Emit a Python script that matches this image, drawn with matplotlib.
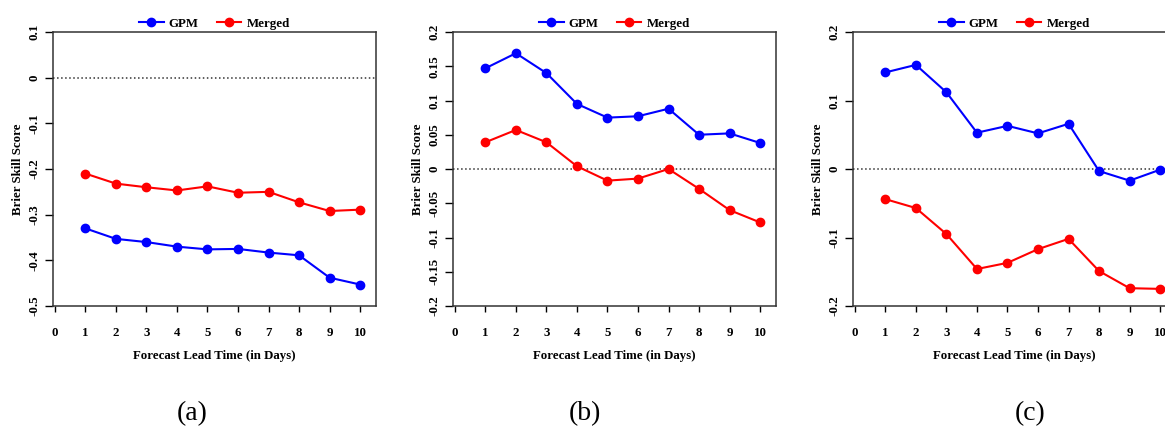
import numpy as np
import matplotlib
matplotlib.use('Agg')
import matplotlib.pyplot as plt

plt.rcParams['font.family'] = ['Liberation Serif', 'DejaVu Serif']

# Forecast lead time (days)
days = np.arange(1, 11)

# Brier skill score, panel (a)
gpm_a = [-0.330, -0.353, -0.360, -0.370, -0.376, -0.375, -0.383, -0.389, -0.438, -0.453]
merged_a = [-0.210, -0.232, -0.240, -0.247, -0.238, -0.252, -0.250, -0.273, -0.292, -0.289]

# panel (b)
gpm_b = [0.147, 0.169, 0.140, 0.095, 0.075, 0.077, 0.088, 0.050, 0.052, 0.038]
merged_b = [0.039, 0.057, 0.039, 0.004, -0.017, -0.014, 0.000, -0.029, -0.060, -0.078]

# panel (c)
gpm_c = [0.141, 0.152, 0.112, 0.053, 0.063, 0.052, 0.066, -0.003, -0.017, -0.001]
merged_c = [-0.044, -0.057, -0.095, -0.146, -0.137, -0.117, -0.102, -0.149, -0.174, -0.175]

y_ticks_a = [0.1, 0, -0.1, -0.2, -0.3, -0.4, -0.5]
y_ticks_b = [0.2, 0.15, 0.1, 0.05, 0, -0.05, -0.1, -0.15, -0.2]
y_ticks_c = [0.2, 0.1, 0, -0.1, -0.2]

panels = [
    ('(a)', gpm_a, merged_a, y_ticks_a, (-0.5, 0.1)),
    ('(b)', gpm_b, merged_b, y_ticks_b, (-0.2, 0.2)),
    ('(c)', gpm_c, merged_c, y_ticks_c, (-0.2, 0.2)),
]

W, H = 1165, 433
fig = plt.figure(figsize=(W / 100, H / 100), dpi=100)

# axes boxes in pixels: left, top, width, height (last one runs off the page)
boxes = [(53, 32, 323, 274), (453, 32, 323, 274), (853, 32, 323, 274)]
label_x = [192, 585, 1030]

fs = 9.3
for (tag, gpm, merged, yt, ylim), (l, t, w, h), lx in zip(panels, boxes, label_x):
    ax = fig.add_axes([l / W, 1 - (t + h) / H, w / W, h / H])
    ax.axhline(0, color='#333333', linestyle=':', linewidth=1.1, zorder=1)
    ax.plot(days, gpm, color='blue', marker='o', markersize=6, linewidth=1.5, label='GPM')
    ax.plot(days, merged, color='red', marker='o', markersize=6, linewidth=1.5, label='Merged')
    ax.set_xlim(-0.06, 10.52)
    ax.set_ylim(*ylim)
    ax.set_xticks(np.arange(0, 11))
    ax.set_yticks(yt)
    ax.set_yticklabels([('%g' % v) for v in yt], rotation=90, va='center',
                       fontsize=fs, fontweight='bold')
    ax.set_xticklabels([str(v) for v in range(11)], fontsize=fs, fontweight='bold')
    ax.tick_params(axis='y', length=6, width=1, pad=3)
    ax.tick_params(axis='x', length=4, width=1, pad=11)
    for s in ax.spines.values():
        s.set_linewidth(1.1)
        s.set_color('#333333')
    ax.set_xlabel('Forecast Lead Time (in Days)', fontsize=fs, fontweight='bold', labelpad=8)
    ax.set_ylabel('Brier Skill Score', fontsize=fs, fontweight='bold', labelpad=3)
    ax.legend(loc='lower center', bbox_to_anchor=(0.5, 0.985), ncol=2, frameon=False,
              prop={'size': fs, 'weight': 'bold'}, handlelength=1.9, handletextpad=0.4,
              columnspacing=1.4, borderaxespad=0.1)
    fig.text(lx / W, 1 - 414 / H, tag, fontsize=20, ha='center', va='center')

fig.savefig('out.png', dpi=100)
